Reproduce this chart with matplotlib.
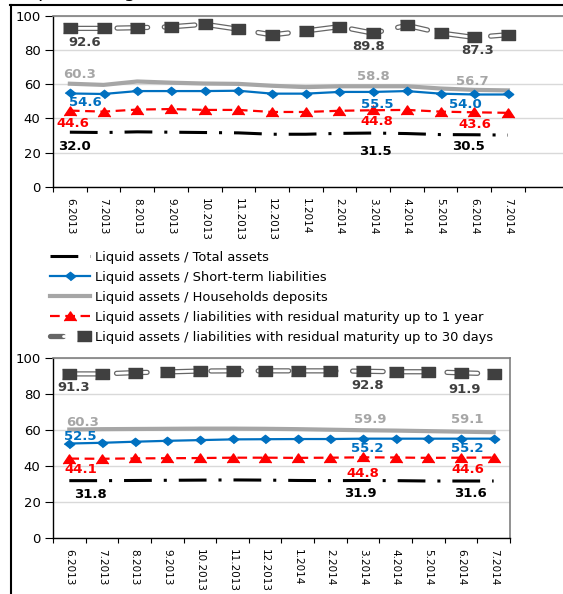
import numpy as np
import matplotlib
matplotlib.use("Agg")
import matplotlib.pyplot as plt
from matplotlib.lines import Line2D
from matplotlib.legend_handler import HandlerTuple

plt.rcParams['font.family'] = 'DejaVu Sans'
plt.rcParams['lines.scale_dashes'] = False

months = ['6.2013', '7.2013', '8.2013', '9.2013', '10.2013', '11.2013', '12.2013',
          '1.2014', '2.2014', '3.2014', '4.2014', '5.2014', '6.2014', '7.2014']

# upper panel
top_total = [32.0, 31.8, 32.2, 32.0, 31.8, 31.6, 30.8, 30.8, 31.3, 31.5, 31.2, 30.6, 30.5, 30.3]
top_short = [54.6, 54.3, 56.0, 56.0, 56.0, 56.2, 54.5, 54.5, 55.5, 55.5, 56.0, 54.5, 54.0, 54.0]
top_house = [60.3, 59.6, 61.6, 60.9, 60.4, 60.2, 59.1, 58.3, 58.8, 58.8, 58.8, 57.5, 56.7, 56.4]
top_year = [44.6, 44.0, 45.2, 45.5, 45.0, 45.0, 43.8, 43.8, 44.5, 44.8, 45.0, 44.0, 43.6, 43.3]
top_days30 = [92.6, 92.6, 93.0, 93.5, 95.0, 92.1, 88.8, 91.1, 93.6, 89.8, 94.4, 89.9, 87.3, 88.9]

# lower panel
bot_total = [31.8, 31.8, 31.9, 32.0, 32.1, 32.2, 32.1, 31.9, 31.8, 31.9, 31.8, 31.6, 31.6, 31.6]
bot_short = [52.5, 52.9, 53.5, 54.0, 54.4, 54.8, 54.9, 55.0, 55.0, 55.2, 55.2, 55.2, 55.2, 55.2]
bot_house = [60.3, 60.5, 60.6, 60.7, 60.8, 60.8, 60.7, 60.5, 60.2, 59.9, 59.7, 59.4, 59.1, 58.8]
bot_year = [44.1, 44.0, 44.2, 44.3, 44.4, 44.6, 44.6, 44.5, 44.6, 44.8, 44.7, 44.5, 44.6, 44.7]
bot_days30 = [91.3, 91.3, 92.0, 92.4, 92.9, 93.0, 93.0, 93.0, 93.0, 92.8, 92.5, 92.5, 91.9, 91.4]

series_names = ['Liquid assets / Total assets',
                'Liquid assets / Short-term liabilities',
                'Liquid assets / Households deposits',
                'Liquid assets / liabilities with residual maturity up to 1 year',
                'Liquid assets / liabilities with residual maturity up to 30 days']

# value labels: (series, month index, dx px, dy px downward)
top_notes = [('days30', 0, 15, 13), ('days30', 9, -5, 12), ('days30', 12, 3, 12),
             ('house', 0, 10, -11), ('house', 9, 0, -11), ('house', 12, -2, -10),
             ('short', 0, 16, 8), ('short', 9, 4, 11), ('short', 12, -9, 9),
             ('year', 0, 3, 11), ('year', 9, 4, 10), ('year', 12, 1, 11),
             ('total', 0, 5, 13), ('total', 9, 2, 17), ('total', 12, -6, 10)]
bot_notes = [('days30', 0, 4, 12), ('days30', 9, 5, 13), ('days30', 12, 4, 15),
             ('house', 0, 13, -9), ('house', 9, 7, -12), ('house', 12, 6, -14),
             ('short', 0, 11, -9), ('short', 9, 4, 8), ('short', 12, 6, 8),
             ('year', 0, 11, 9), ('year', 9, 0, 15), ('year', 12, 7, 10),
             ('total', 0, 21, 12), ('total', 9, -3, 12), ('total', 12, 9, 11)]

BLUE = '#0070C0'
GRAY = '#A6A6A6'
RED = '#FF0000'
DARK = '#404040'
RIM = '#666666'
note_colors = {'total': 'black', 'short': BLUE, 'house': GRAY, 'year': RED, 'days30': DARK}

square = [(-1, -0.65), (1, -0.65), (1, 0.65), (-1, 0.65)]
diamond = [(-1, 0), (0, 0.8), (1, 0), (0, -0.8)]
triangle = [(-1, -0.75), (0, 0.75), (1, -0.75)]

W, H = 563, 594
fig = plt.figure(figsize=(W / 100, H / 100), dpi=100)


def px_box(left, top, right, bottom):
    return [left / W, 1 - bottom / H, (right - left) / W, (bottom - top) / H]


def draw_panel(ax, total, short, house, year, days30, notes, xmax):
    x = np.arange(len(months))
    vals = {'total': total, 'short': short, 'house': house, 'year': year, 'days30': days30}
    h = {}
    h['total'], = ax.plot(x, total, color='black', lw=2.2, dashes=(20, 8.6, 2.2, 8.6), zorder=3)
    h['short'], = ax.plot(x, short, color=BLUE, lw=1.6, marker=diamond, ms=7.5, zorder=4)
    h['house'], = ax.plot(x, house, color=GRAY, lw=3.0, zorder=3)
    h['year'], = ax.plot(x, year, color=RED, lw=1.6, dashes=(7, 4), marker=triangle,
                         ms=8.8, zorder=4)
    # double-rimmed line for the 30-day ratio
    ax.plot(x, days30, color=RIM, lw=3.8, dashes=(22, 12), dash_capstyle='round', zorder=3)
    ax.plot(x, days30, color='white', lw=2.0, dashes=(22, 12), dash_capstyle='round',
            zorder=3.1)
    ax.plot(x, days30, ls='none', marker=square, ms=10.5, color=DARK, zorder=4)

    for key, i, dx, dy in notes:
        v = vals[key][i]
        ax.annotate(f'{v:.1f}', (i, v), xytext=(dx, -dy - 1.5), textcoords='offset pixels',
                    ha='center', va='center', fontsize=9.5, fontweight='bold',
                    color=note_colors[key], zorder=6)

    ax.set_ylim(0, 100)
    ax.set_xlim(-0.5, xmax)
    ax.set_yticks(range(0, 101, 20))
    ax.yaxis.grid(True, color='#d9d9d9', lw=1)
    ax.set_axisbelow(True)
    ax.set_xticks(x)
    ax.set_xticklabels(months, rotation=-90, fontsize=7.5)
    ax.set_xticks(np.arange(-0.5, len(months)), minor=True)
    ax.tick_params(axis='x', which='major', length=0, pad=8)
    ax.tick_params(axis='x', which='minor', length=3.6, width=0.8, color='black')
    ax.tick_params(axis='y', length=5.5, width=0.8, pad=3.5, labelsize=9.5)
    for side in ['left', 'bottom']:
        ax.spines[side].set_color('black')
        ax.spines[side].set_linewidth(1)
    for side in ['top', 'right']:
        ax.spines[side].set_color('#7f7f7f')
        ax.spines[side].set_linewidth(1.2)
    return h


ax_top = fig.add_axes(px_box(53, 15.7, 570, 187))
handles = draw_panel(ax_top, top_total, top_short, top_house, top_year, top_days30,
                     top_notes, -0.5 + (570 - 53) / 33.7)

ax_bot = fig.add_axes(px_box(53, 358.3, 510, 537.7))
draw_panel(ax_bot, bot_total, bot_short, bot_house, bot_year, bot_days30, bot_notes, 13.5)

# legend key for the 30-day ratio: solid double line with square
handles['days30'] = (Line2D([], [], color=RIM, lw=3.8, solid_capstyle='round'),
                     Line2D([], [], color='white', lw=2.0, solid_capstyle='round'),
                     Line2D([], [], ls='none', marker=square, ms=10.5, color=DARK))

order = ['total', 'short', 'house', 'year', 'days30']
fig.legend([handles[k] for k in order], series_names,
           handler_map={tuple: HandlerTuple(ndivide=None)},
           loc='upper left', bbox_to_anchor=(50 / W, 1 - 251 / H),
           frameon=False, fontsize=9.4, handlelength=3.1, handletextpad=0.35,
           labelspacing=0.53, borderpad=0, borderaxespad=0, numpoints=1)

fig.text(37 / W, 1 + 3 / H, 'percentages', va='baseline', fontsize=14)

# page frame
fig.add_artist(Line2D([10 / W, 1], [1 - 5 / H] * 2, transform=fig.transFigure,
                      color='black', lw=1.5))
fig.add_artist(Line2D([11 / W] * 2, [0, 1 - 5 / H], transform=fig.transFigure,
                      color='black', lw=1.5))

fig.savefig('out.png', dpi=100)
